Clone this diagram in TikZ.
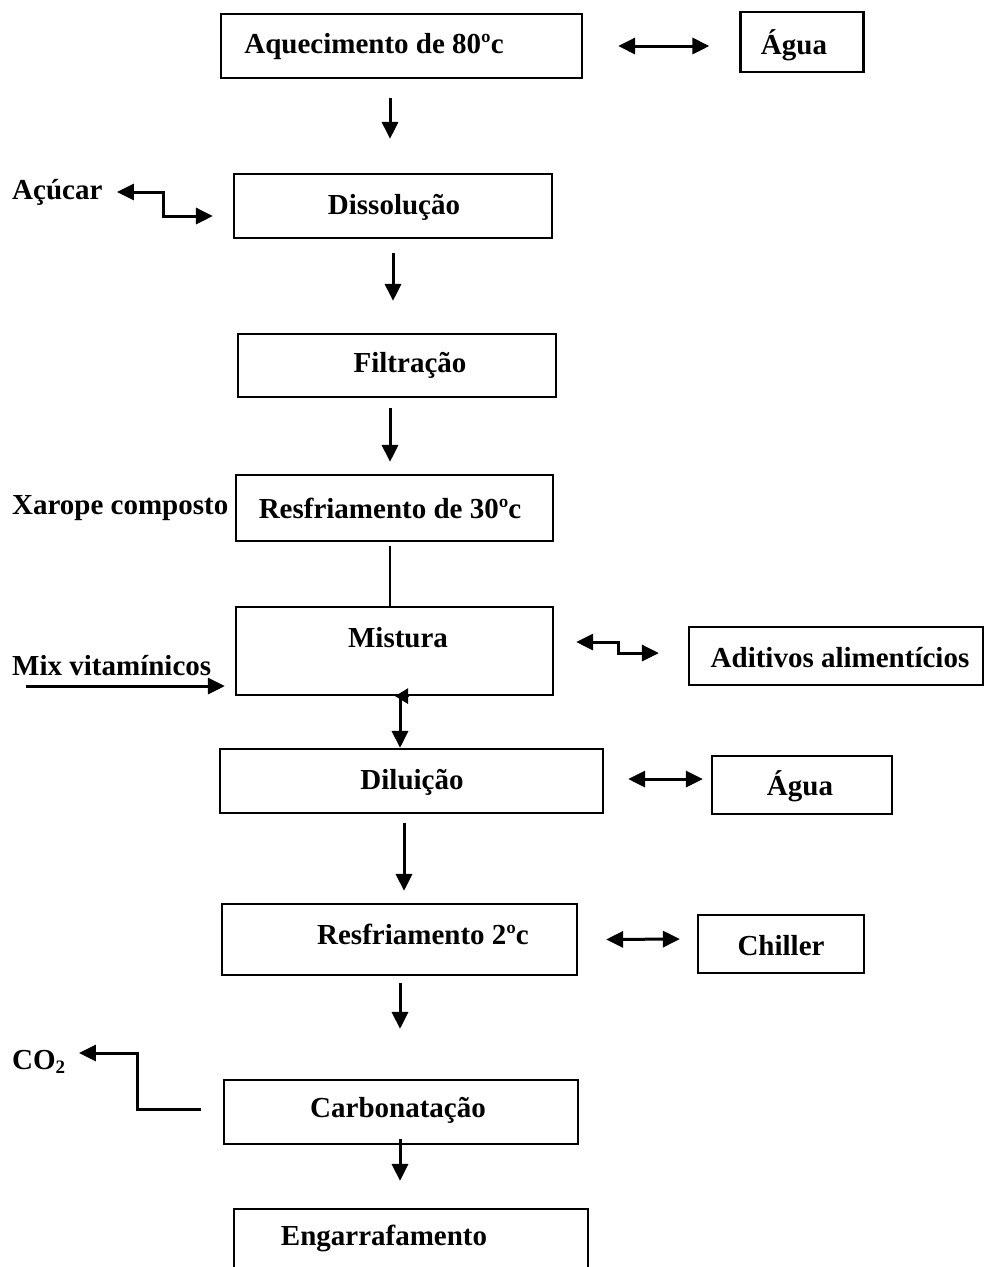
\documentclass[tikz,border=0pt]{standalone}
\usepackage{fontspec}
\setmainfont{Liberation Serif}
\usetikzlibrary{arrows.meta,calc}

\tikzset{
  box/.style={draw, line width=2.2pt, inner sep=0pt},
  lbl/.style={font=\fontsize{29}{34}\selectfont\bfseries, inner sep=0pt, yshift=-2pt},
  arr/.style={line width=3pt, -{Triangle[length=17pt,width=16pt]}},
  dbl/.style={line width=3pt, {Triangle[length=17pt,width=16pt]}-{Triangle[length=17pt,width=16pt]}},
  ln/.style={line width=2.6pt}
}

\begin{document}
\begin{tikzpicture}[x=1pt,y=-1pt]
    \clip (0,0) rectangle (984,1267);

    % Process boxes
    \node [box, minimum width=361pt, minimum height=64pt] (aquec) at (401.5,46) {};
    \node [lbl] (aquec-t) at (374,45) {Aquecimento de 80ºc};
    \node [box, minimum width=123pt, minimum height=60pt] (agua1) at (802,42) {};
    \node [lbl] (agua1-t) at (794,43) {Água};

    \node [box, minimum width=318pt, minimum height=64pt] (dissol) at (393,206) {};
    \node [lbl] (dissol-t) at (394,205) {Dissolução};
    \node [lbl, anchor=west] (acucar) at (12,190) {Açúcar};

    \node [box, minimum width=318pt, minimum height=63pt] (filtr) at (397,365.5) {};
    \node [lbl] (filtr-t) at (410,363) {Filtração};

    \node [box, minimum width=317pt, minimum height=66pt] (resf30) at (394.5,508) {};
    \node [lbl] (resf30-t) at (390,506) {Resfriamento de 30ºc};
    \node [lbl, anchor=west] (xarope) at (12,506) {Xarope composto};

    \node [box, minimum width=317pt, minimum height=88pt] (mist) at (394.5,651) {};
    \node [lbl] (mist-t) at (398,636) {Mistura};
    \node [lbl, anchor=west] (mix) at (12,664) {Mix vitamínicos};
    \node [box, minimum width=294pt, minimum height=58pt] (aditiv) at (836,656) {};
    \node [lbl] (aditiv-t) at (840,656) {Aditivos alimentícios};

    \node [box, minimum width=383pt, minimum height=64pt] (dilui) at (411.5,781) {};
    \node [lbl] (dilui-t) at (412,780) {Diluição};
    \node [box, minimum width=180pt, minimum height=58pt] (agua2) at (802,785) {};
    \node [lbl] (agua2-t) at (800,784) {Água};

    \node [box, minimum width=355pt, minimum height=71pt] (resf2) at (399.5,939.5) {};
    \node [lbl] (resf2-t) at (423,932) {Resfriamento 2ºc};
    \node [box, minimum width=166pt, minimum height=58pt] (chiller) at (781,944) {};
    \node [lbl] (chiller-t) at (781,944) {Chiller};

    \node [box, minimum width=354pt, minimum height=64pt] (carb) at (401,1112) {};
    \node [lbl] (carb-t) at (398,1108) {Carbonatação};
    \node [lbl, anchor=west] (co2) at (12,1060) {CO\raisebox{-4pt}{\fontsize{19}{20}\selectfont 2}};

    \node [box, minimum width=354pt, minimum height=80pt] (engarr) at (411,1249) {};
    \node [lbl] (engarr-t) at (384,1236) {Engarrafamento};

    % Connectors
    \draw [dbl] ($(aquec.east)+(35,0)$) -- ($(agua1.west)+(-30,4)$);
    \draw [arr] ($(aquec.south)+(-11.5,19)$) -- ($(dissol.north)+(-3,-34)$);
    \draw [dbl] ($(dissol.west)+(-116,-14)$) -| ($(dissol.west)+(-69,10)$) -- ($(dissol.west)+(-20,10)$);
    \draw [arr] ($(dissol.south)+(0,14)$) -- ($(filtr.north)+(-4,-32)$);
    \draw [arr] ($(filtr.south)+(-7,10)$) -- ($(resf30.north)+(-4.5,-12)$);
    \draw [ln] ($(resf30.south)+(-4.5,4)$) -- ($(mist.north)+(-4.5,0)$);
    \draw [arr] ($(mist.west)+(-209,35)$) -- ($(mist.west)+(-10,35)$);
    \draw [dbl] ($(mist.east)+(22,-9)$) -| ($(aditiv.west)+(-69,-3)$) -- ($(aditiv.west)+(-29,-3)$);
    \draw [line width=2.6pt, -{Triangle[length=13pt,width=15pt]}] ($(mist.south)+(14,0)$) -- ($(mist.south)+(0.5,0)$);
    \draw [arr] ($(mist.south)+(5.5,0)$) -- ($(dilui.north)+(-11.5,0)$);
    \draw [dbl] ($(dilui.east)+(24,-2)$) -- ($(agua2.west)+(-8,-6)$);
    \draw [arr] ($(dilui.south)+(-7.5,9)$) -- ($(resf2.north)+(4.5,-12)$);
    \draw [dbl] ($(resf2.east)+(28,0)$) -- ($(chiller.west)+(-17,-5)$);
    \draw [arr] ($(resf2.south)+(0.5,7)$) -- ($(carb.north)+(-1,-50)$);
    \draw [arr] ($(carb.west)+(-22,-3)$) -| ($(carb.west)+(-85,-59)$) -- ($(carb.west)+(-144,-59)$);
    \draw [arr] ($(carb.south)+(-1,-6)$) -- ($(engarr.north)+(-11,-27)$);
\end{tikzpicture}
\end{document}
